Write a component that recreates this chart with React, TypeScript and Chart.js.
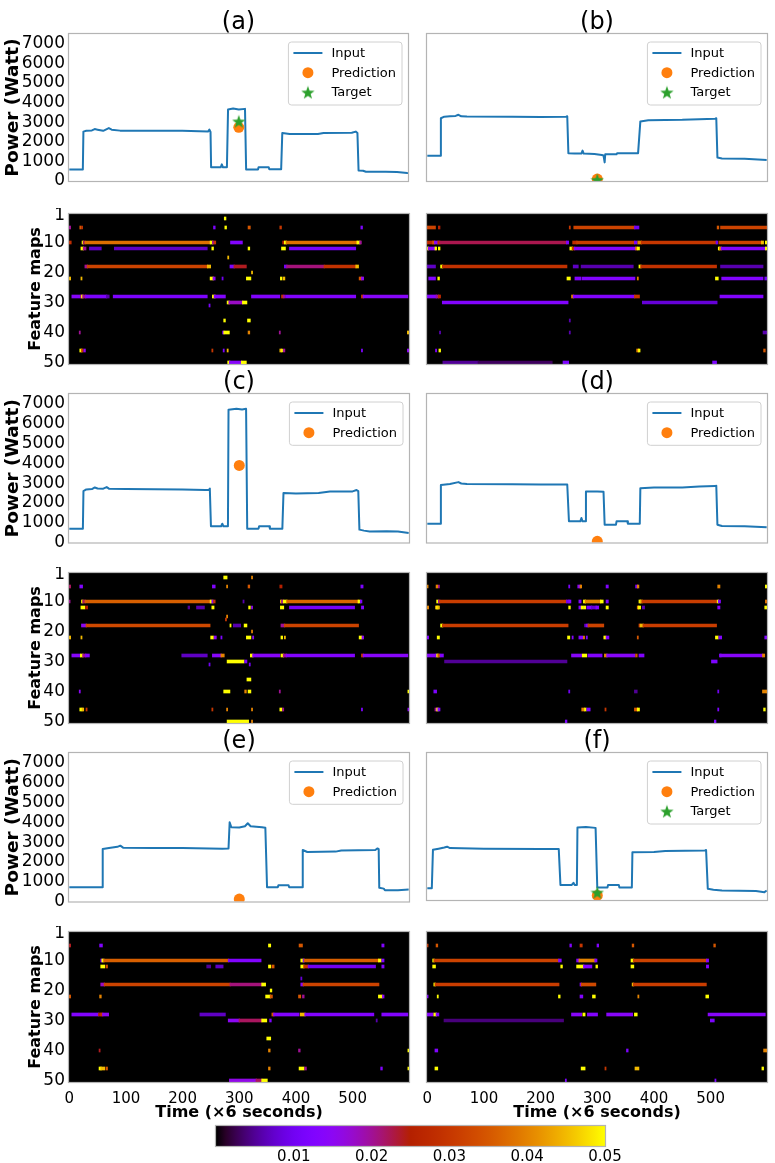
import React, { useEffect, useRef } from 'react';
import { Chart, registerables } from 'chart.js';

Chart.register(...registerables);

const FONT = '"DejaVu Sans", sans-serif';
const BLUE = '#1f77b4';
const ORANGE = '#ff7f0e';
const GREEN = '#2ca02c';
const FRAME = '#b4b4b4';

const PANEL_TITLES = ['(a)', '(b)', '(c)', '(d)', '(e)', '(f)'];
const POWER_TICKS = [0, 1000, 2000, 3000, 4000, 5000, 6000, 7000];
const POWER_MAX = 7500;
const TIME_TICKS = [0, 100, 200, 300, 400, 500];
const ROW_LABELS = Array.from({ length: 50 }, (_, i) => String(i + 1));
const ROW_TICKS = [1, 10, 20, 30, 40, 50];
const CBAR_TICKS = [0.01, 0.02, 0.03, 0.04, 0.05];
const CBAR_MAX = 0.05;
const PRED_TIME = 300;

// Input power series: [time step, watt]
const inputA = [[0,585],[24,585],[25,2520],[30,2560],[40,2580],[45,2650],[50,2620],[60,2560],[70,2700],[75,2620],[90,2570],[150,2560],[200,2560],[230,2540],[246,2530],[248,2620],[250,2500],[251,700],[268,700],[270,850],[272,700],[279,700],[281,3650],[290,3700],[300,3650],[311,3680],[313,585],[334,585],[335,700],[353,700],[354,600],[375,600],[377,2450],[390,2400],[440,2400],[450,2450],[500,2460],[507,2520],[510,2450],[512,540],[520,520],[525,470],[560,470],[580,460],[598,410],[599,430]];
const inputB = [[0,1290],[23,1290],[24,3200],[30,3280],[40,3300],[50,3320],[55,3380],[60,3300],[70,3290],[150,3280],[200,3270],[245,3280],[247,3300],[249,1420],[260,1400],[272,1400],[274,1550],[276,1400],[295,1380],[308,1330],[311,1300],[313,950],[314,1360],[334,1360],[335,1420],[372,1420],[376,3040],[390,3100],[450,3120],[480,3150],[508,3180],[510,3200],[512,1200],[520,1150],[560,1130],[599,1070]];
const inputC = [[0,700],[24,700],[25,2600],[30,2680],[40,2700],[45,2780],[50,2730],[60,2720],[66,2800],[70,2720],[100,2700],[200,2680],[240,2650],[246,2650],[248,2720],[250,820],[268,820],[270,950],[272,820],[280,820],[281,6700],[295,6750],[305,6720],[312,6750],[314,700],[334,700],[335,820],[353,820],[354,700],[376,700],[378,2500],[400,2480],[440,2500],[460,2580],[500,2580],[507,2650],[510,2600],[512,650],[520,600],[530,560],[560,570],[580,560],[599,480]];
const inputD = [[0,950],[23,950],[24,2900],[40,2950],[55,3050],[60,2980],[70,2950],[150,2940],[200,2930],[247,2930],[250,1070],[270,1070],[272,1240],[274,1070],[279,1070],[280,2570],[300,2580],[311,2560],[313,900],[333,900],[334,1070],[353,1070],[354,950],[375,950],[376,2740],[400,2780],[450,2780],[480,2830],[508,2850],[510,2870],[512,900],[520,830],[560,820],[599,770]];
const inputE = [[0,720],[58,720],[59,2650],[70,2700],[85,2760],[90,2820],[95,2720],[150,2700],[200,2700],[270,2670],[281,2680],[283,4000],[286,3750],[300,3740],[310,3800],[315,3950],[320,3800],[340,3750],[346,3720],[349,720],[368,720],[369,820],[387,820],[388,720],[411,720],[412,2600],[420,2500],[470,2520],[480,2580],[540,2600],[544,2680],[546,2650],[547,690],[555,650],[557,570],[580,570],[599,600]];
const inputF = [[0,600],[8,600],[10,2560],[20,2620],[30,2680],[35,2720],[40,2650],[100,2620],[200,2600],[232,2600],[235,770],[255,770],[258,880],[260,770],[264,770],[265,3700],[280,3720],[297,3680],[300,635],[318,635],[319,770],[338,770],[339,635],[361,635],[362,2440],[400,2450],[420,2500],[490,2530],[492,2550],[495,570],[505,520],[520,480],[580,460],[595,400],[599,480]];

const predictions = [2740, 100, 3890, 60, 120, 234];
const targets = [3040, 60, null, null, null, 380];

// Feature-map segments: [row (1-50), start step, end step, value]
const heatA = [
  [2,274,276,0.05],
  [5,0,2,0.02],[5,19,20,0.035],[5,22,23,0.03],[5,255,257,0.012],[5,275,277,0.05],[5,316,319,0.035],[5,372,374,0.03],[5,515,517,0.012],
  [10,0,3,0.028],[10,23,25,0.05],[10,25,28,0.022],[10,28,249,0.038],[10,249,253,0.05],[10,253,255,0.02],[10,256,258,0.03],[10,285,305,0.013],[10,377,380,0.025],[10,380,383,0.05],[10,383,508,0.038],[10,508,513,0.05],[10,513,515,0.02],
  [12,21,25,0.05],[12,25,29,0.02],[12,36,56,0.007],[12,80,243,0.007],[12,252,254,0.05],[12,316,318,0.05],[12,375,381,0.05],[12,389,505,0.011],
  [15,280,281,0.045],
  [18,28,32,0.02],[18,32,244,0.032],[18,244,249,0.045],[18,284,291,0.012],[18,291,312,0.024],[18,380,384,0.01],[18,384,450,0.021],[18,450,506,0.029],[18,506,510,0.045],
  [20,322,323,0.045],
  [22,0,2,0.045],[22,21,22,0.045],[22,249,254,0.05],[22,254,257,0.015],[22,270,271,0.01],[22,313,320,0.05],[22,373,375,0.05],[22,378,380,0.045],[22,512,516,0.035],[22,516,519,0.015],
  [28,5,19,0.014],[28,20,22,0.02],[28,22,24,0.05],[28,24,29,0.02],[28,29,66,0.012],[28,66,70,0.006],[28,78,243,0.012],[28,253,257,0.05],[28,256,275,0.013],[28,322,371,0.013],[28,375,377,0.03],[28,378,380,0.02],[28,382,505,0.013],[28,516,519,0.03],[28,519,597,0.014],
  [30,279,282,0.05],[30,282,306,0.018],[30,306,313,0.05],
  [31,247,248,0.012],
  [36,273,275,0.05],[36,315,319,0.05],
  [40,18,19,0.02],[40,271,273,0.012],[40,273,282,0.05],[40,316,318,0.04],[40,371,372,0.02],[40,597,600,0.045],
  [46,19,22,0.05],[46,22,24,0.03],[46,26,28,0.015],[46,252,253,0.03],[46,272,273,0.012],[46,279,280,0.045],[46,372,374,0.045],[46,375,376,0.05],[46,378,380,0.02],[46,516,517,0.012],[46,597,600,0.015],
  [50,280,283,0.05],[50,283,304,0.014],[50,304,312,0.05],
];
const heatB = [
  [5,0,14,0.032],[5,20,22,0.025],[5,251,252,0.03],[5,259,366,0.032],[5,366,373,0.01],[5,512,514,0.035],[5,518,600,0.032],
  [10,0,10,0.027],[10,10,13,0.035],[10,13,19,0.015],[10,19,22,0.028],[10,22,246,0.0225],[10,246,249,0.012],[10,257,264,0.028],[10,264,366,0.031],[10,366,370,0.012],[10,372,378,0.04],[10,378,510,0.03],[10,510,512,0.01],[10,515,590,0.032],[10,590,593,0.045],[10,597,600,0.05],
  [12,0,2,0.05],[12,2,14,0.015],[12,14,16,0.05],[12,20,22,0.05],[12,252,256,0.05],[12,256,260,0.03],[12,260,368,0.0135],[12,368,370,0.04],[12,371,374,0.05],[12,514,516,0.05],[12,516,519,0.04],[12,519,597,0.0135],[12,597,600,0.05],
  [18,0,14,0.007],[18,24,27,0.05],[18,27,246,0.029],[18,258,266,0.007],[18,272,363,0.006],[18,374,377,0.05],[18,377,510,0.029],[18,518,592,0.006],
  [22,3,14,0.013],[22,19,21,0.05],[22,247,252,0.05],[22,261,271,0.013],[22,274,366,0.013],[22,371,372,0.04],[22,509,513,0.05],[22,520,592,0.013],[22,596,600,0.01],
  [28,0,16,0.013],[28,16,20,0.02],[28,20,23,0.027],[28,255,258,0.04],[28,258,366,0.013],[28,366,369,0.03],[28,371,374,0.03],[28,517,592,0.013],
  [30,27,248,0.013],[30,380,511,0.008],
  [36,251,252,0.006],
  [40,22,23,0.006],[40,251,252,0.006],[40,593,600,0.006],
  [46,15,16,0.013],[46,21,23,0.05],[46,370,372,0.04],[46,373,375,0.05],[46,594,596,0.035],
  [50,28,90,0.005],[50,90,220,0.003],[50,240,249,0.012],[50,504,510,0.012],
];
const heatC = [
  [2,273,278,0.05],[2,322,323,0.04],
  [5,0,2,0.022],[5,19,23,0.013],[5,253,257,0.013],[5,278,279,0.04],[5,316,318,0.035],[5,372,375,0.025],[5,515,518,0.012],
  [10,0,1,0.02],[10,22,24,0.05],[10,24,28,0.022],[10,28,249,0.036],[10,249,252,0.05],[10,252,254,0.015],[10,255,257,0.03],[10,307,308,0.006],[10,373,375,0.045],[10,375,378,0.02],[10,378,384,0.05],[10,384,510,0.037],[10,510,513,0.05],[10,514,516,0.013],
  [12,21,27,0.05],[12,29,32,0.025],[12,210,212,0.005],[12,225,238,0.006],[12,252,255,0.05],[12,317,319,0.05],[12,322,323,0.015],[12,373,378,0.05],[12,389,503,0.011],[12,516,519,0.013],
  [15,278,279,0.04],[16,276,277,0.03],
  [18,22,30,0.015],[18,30,248,0.033],[18,284,285,0.05],[18,290,302,0.006],[18,309,313,0.05],[18,374,380,0.02],[18,380,510,0.032],
  [20,322,323,0.04],
  [22,0,2,0.045],[22,21,22,0.045],[22,250,254,0.05],[22,256,259,0.015],[22,268,269,0.012],[22,313,320,0.05],[22,324,325,0.015],[22,374,376,0.05],[22,380,381,0.045],[22,512,516,0.05],[22,517,519,0.015],
  [28,5,19,0.014],[28,20,24,0.05],[28,24,29,0.02],[28,29,35,0.013],[28,199,243,0.007],[28,253,268,0.014],[28,268,273,0.04],[28,320,324,0.05],[28,324,371,0.014],[28,374,378,0.05],[28,378,383,0.02],[28,383,503,0.013],[28,516,519,0.03],[28,519,597,0.014],
  [30,279,308,0.05],[30,310,313,0.012],
  [31,247,248,0.01],[31,318,319,0.01],
  [36,314,320,0.05],
  [40,18,19,0.015],[40,273,283,0.05],[40,310,312,0.04],[40,316,320,0.05],[40,371,372,0.02],[40,598,600,0.05],
  [46,19,22,0.05],[46,23,25,0.045],[46,30,31,0.03],[46,252,253,0.03],[46,278,279,0.04],[46,322,323,0.04],[46,372,375,0.05],[46,377,378,0.02],[46,516,517,0.012],[46,598,600,0.015],
  [50,279,316,0.05],[50,322,323,0.04],
];
const heatD = [
  [5,0,1,0.04],[5,16,18,0.04],[5,20,21,0.02],[5,250,251,0.012],[5,266,270,0.015],[5,270,272,0.04],[5,316,319,0.013],[5,368,371,0.01],[5,371,373,0.04],[5,513,516,0.04],[5,597,600,0.05],
  [10,17,19,0.05],[10,20,22,0.02],[10,22,246,0.031],[10,246,250,0.01],[10,250,253,0.013],[10,268,271,0.013],[10,276,279,0.05],[10,279,306,0.04],[10,306,310,0.05],[10,316,319,0.012],[10,374,376,0.05],[10,376,379,0.045],[10,379,510,0.031],[10,512,514,0.05],[10,514,517,0.013],[10,597,600,0.038],
  [12,0,2,0.04],[12,15,17,0.045],[12,17,19,0.05],[12,19,21,0.045],[12,250,252,0.05],[12,268,271,0.013],[12,272,274,0.05],[12,276,279,0.05],[12,282,290,0.012],[12,290,298,0.008],[12,298,302,0.013],[12,316,319,0.05],[12,371,373,0.04],[12,373,376,0.05],[12,380,383,0.006],[12,513,516,0.013],[12,596,600,0.05],
  [18,24,27,0.05],[18,27,248,0.031],[18,278,279,0.007],[18,281,284,0.013],[18,284,311,0.032],[18,374,375,0.03],[18,376,381,0.045],[18,381,510,0.031],
  [22,0,2,0.013],[22,18,21,0.05],[22,248,251,0.05],[22,256,257,0.013],[22,268,274,0.013],[22,276,277,0.04],[22,281,282,0.013],[22,312,315,0.05],[22,316,320,0.013],[22,371,372,0.035],[22,509,513,0.05],[22,515,519,0.013],[22,596,600,0.013],
  [28,0,14,0.014],[28,15,17,0.013],[28,17,19,0.05],[28,19,22,0.035],[28,23,28,0.013],[28,255,272,0.014],[28,274,281,0.05],[28,284,308,0.013],[28,313,317,0.04],[28,317,366,0.014],[28,368,370,0.035],[28,374,382,0.013],[28,516,518,0.013],[28,518,592,0.014],[28,592,595,0.04],
  [30,31,246,0.005],[30,502,511,0.012],
  [40,12,16,0.012],[40,250,251,0.01],[40,366,370,0.005],[40,513,514,0.01],[40,592,600,0.04],
  [46,14,17,0.02],[46,17,19,0.05],[46,19,22,0.013],[46,273,277,0.04],[46,278,280,0.05],[46,282,287,0.012],[46,314,315,0.03],[46,366,371,0.035],[46,371,374,0.05],[46,513,514,0.012],[46,594,596,0.05],
  [50,244,246,0.012],[50,507,509,0.012],
];
const heatE = [
  [5,0,2,0.024],[5,54,58,0.013],[5,352,355,0.05],[5,406,411,0.035],[5,552,555,0.013],
  [10,56,58,0.013],[10,58,61,0.05],[10,61,281,0.036],[10,281,338,0.013],[10,409,413,0.05],[10,413,415,0.013],[10,415,546,0.036],[10,546,550,0.05],[10,552,555,0.013],
  [12,56,62,0.05],[12,65,67,0.035],[12,243,249,0.005],[12,259,271,0.007],[12,352,355,0.05],[12,358,361,0.035],[12,409,414,0.05],[12,414,422,0.03],[12,422,540,0.01],[12,552,555,0.013],
  [16,409,410,0.008],
  [18,56,62,0.018],[18,62,284,0.032],[18,284,340,0.021],[18,340,346,0.05],[18,409,413,0.015],[18,413,546,0.032],
  [20,355,357,0.05],
  [22,0,2,0.035],[22,54,56,0.04],[22,347,355,0.05],[22,355,358,0.035],[22,405,408,0.035],[22,412,414,0.02],[22,546,552,0.05],[22,553,555,0.015],
  [28,5,52,0.013],[28,52,56,0.025],[28,56,59,0.03],[28,59,69,0.015],[28,231,275,0.007],[28,358,361,0.035],[28,361,405,0.013],[28,408,416,0.045],[28,416,537,0.013],[28,552,597,0.013],
  [30,281,300,0.015],[30,300,340,0.022],[30,340,348,0.05],[30,354,356,0.012],[30,542,543,0.006],
  [36,349,355,0.05],
  [40,53,54,0.024],[40,352,354,0.04],[40,405,407,0.02],[40,598,600,0.05],
  [46,53,56,0.05],[46,56,62,0.045],[46,65,67,0.035],[46,352,354,0.04],[46,406,414,0.05],[46,416,418,0.02],[46,550,552,0.013],[46,598,600,0.05],
  [50,283,330,0.016],[50,330,340,0.022],[50,340,349,0.05],
];
const heatF = [
  [5,0,1,0.03],[5,16,18,0.035],[5,252,254,0.013],[5,270,273,0.03],[5,300,302,0.013],[5,362,364,0.035],[5,506,508,0.035],
  [10,10,12,0.05],[10,12,232,0.032],[10,232,236,0.013],[10,264,268,0.013],[10,268,296,0.04],[10,296,299,0.013],[10,360,364,0.05],[10,364,493,0.032],[10,493,496,0.013],
  [12,10,14,0.05],[12,236,238,0.05],[12,264,276,0.05],[12,276,290,0.013],[12,298,300,0.05],[12,360,364,0.05],[12,493,496,0.013],
  [18,12,14,0.05],[18,14,232,0.031],[18,270,272,0.013],[18,272,297,0.033],[18,362,364,0.045],[18,364,492,0.031],
  [22,0,1,0.013],[22,18,19,0.05],[22,232,234,0.05],[22,270,274,0.013],[22,292,296,0.05],[22,372,373,0.04],[22,492,496,0.05],
  [28,0,10,0.014],[28,12,16,0.05],[28,16,20,0.013],[28,255,272,0.014],[28,275,278,0.05],[28,283,300,0.013],[28,317,362,0.014],[28,366,370,0.05],[28,496,596,0.014],
  [30,30,240,0.004],[30,500,506,0.012],
  [40,14,18,0.013],[40,352,354,0.012],[40,594,600,0.04],
  [46,14,18,0.05],[46,272,278,0.05],[46,314,315,0.03],[46,367,373,0.045],[46,591,593,0.05],
  [50,244,245,0.012],[50,508,509,0.012],
];

const inputs = [inputA, inputB, inputC, inputD, inputE, inputF];
const heats = [heatA, heatB, heatC, heatD, heatE, heatF];

// layout
const LINE_TOPS = [34, 394, 753];
const HEAT_TOPS = [214, 573, 932];
const PLOT_H = 150;

function gnuplotColor(v: number): string {
  const x = Math.max(0, Math.min(1, v / CBAR_MAX));
  const r = Math.sqrt(x);
  const g = x * x * x;
  const b = Math.max(0, Math.sin(2 * Math.PI * x));
  return `rgb(${Math.round(r * 255)},${Math.round(g * 255)},${Math.round(b * 255)})`;
}

function makeStar(color: string, size: number): HTMLCanvasElement {
  const c = document.createElement('canvas');
  c.width = size;
  c.height = size;
  const g = c.getContext('2d')!;
  const cx = size / 2, cy = size / 2 + 0.6;
  const R = size / 2, r = R * 0.4;
  g.beginPath();
  for (let i = 0; i < 10; i++) {
    const ang = -Math.PI / 2 + (i * Math.PI) / 5;
    const rad = i % 2 === 0 ? R : r;
    const px = cx + rad * Math.cos(ang), py = cy + rad * Math.sin(ang);
    if (i === 0) g.moveTo(px, py); else g.lineTo(px, py);
  }
  g.closePath();
  g.fillStyle = color;
  g.fill();
  return c;
}

const STAR = makeStar(GREEN, 14);

function fitY(s: any) {
  s.width = 69;
  s.paddingTop = 0;
  s.paddingBottom = 0;
}
function fitXBottom(height: number) {
  return (s: any) => {
    s.height = height;
    s.paddingLeft = 0;
    s.paddingRight = 0;
  };
}

function panelPlugin(cfg: { title?: string; legend?: string[]; background?: string }) {
  return {
    id: 'panel',
    beforeDatasetsDraw(chart: any) {
      if (!cfg.background) return;
      const { ctx, chartArea: ca } = chart;
      ctx.save();
      ctx.fillStyle = cfg.background;
      ctx.fillRect(ca.left, ca.top, ca.right - ca.left, ca.bottom - ca.top);
      ctx.restore();
    },
    afterDatasetsDraw(chart: any) {
      const { ctx, chartArea: ca } = chart;
      ctx.save();
      ctx.strokeStyle = FRAME;
      ctx.lineWidth = 1.2;
      ctx.strokeRect(ca.left - 0.5, ca.top - 0.5, ca.right - ca.left + 1, ca.bottom - ca.top + 1);
      if (cfg.title) {
        ctx.fillStyle = '#000';
        ctx.font = `24px ${FONT}`;
        ctx.textAlign = 'center';
        ctx.textBaseline = 'alphabetic';
        ctx.fillText(cfg.title, (ca.left + ca.right) / 2, ca.top - 5);
      }
      if (cfg.legend) {
        const items = cfg.legend;
        ctx.font = `13px ${FONT}`;
        const tw = Math.max(...items.map((s) => ctx.measureText(s).width));
        const w = 43 + tw + 6;
        const h = 11 + (items.length - 1) * 19.7 + 12.6;
        const x = ca.right - 6 - w;
        const y = ca.top + 8;
        ctx.beginPath();
        if ((ctx as any).roundRect) (ctx as any).roundRect(x, y, w, h, 3); else ctx.rect(x, y, w, h);
        ctx.fillStyle = 'rgba(255,255,255,0.85)';
        ctx.fill();
        ctx.strokeStyle = '#d0d0d0';
        ctx.lineWidth = 1;
        ctx.stroke();
        items.forEach((label, i) => {
          const cy = y + 11 + i * 19.7;
          if (label === 'Input') {
            ctx.strokeStyle = BLUE;
            ctx.lineWidth = 2;
            ctx.beginPath();
            ctx.moveTo(x + 5, cy);
            ctx.lineTo(x + 34, cy);
            ctx.stroke();
          } else if (label === 'Prediction') {
            ctx.fillStyle = ORANGE;
            ctx.beginPath();
            ctx.arc(x + 19.5, cy, 5.5, 0, Math.PI * 2);
            ctx.fill();
          } else {
            ctx.drawImage(STAR, x + 19.5 - STAR.width / 2, cy - STAR.height / 2);
          }
          ctx.fillStyle = '#000';
          ctx.textAlign = 'left';
          ctx.textBaseline = 'middle';
          ctx.fillText(label, x + 43, cy + 0.5);
        });
      }
      ctx.restore();
    },
  };
}

function lineConfig(i: number): any {
  const col = i % 2;
  const isLeft = col === 0;
  const datasets: any[] = [
    {
      label: 'Input',
      data: inputs[i].map(([x, y]) => ({ x, y })),
      borderColor: BLUE,
      backgroundColor: BLUE,
      borderWidth: 2,
      borderJoinStyle: 'round',
      borderCapStyle: 'butt',
      pointRadius: 0,
      tension: 0,
      fill: false,
      order: 3,
    },
    {
      label: 'Prediction',
      data: [{ x: PRED_TIME, y: predictions[i] }],
      showLine: false,
      pointRadius: 5.5,
      pointHoverRadius: 5.5,
      pointBackgroundColor: ORANGE,
      pointBorderWidth: 0,
      borderColor: ORANGE,
      backgroundColor: ORANGE,
      order: 2,
    },
  ];
  const legend = ['Input', 'Prediction'];
  if (targets[i] !== null) {
    datasets.push({
      label: 'Target',
      data: [{ x: PRED_TIME, y: targets[i] }],
      showLine: false,
      pointStyle: STAR,
      pointRadius: 6,
      borderColor: GREEN,
      backgroundColor: GREEN,
      order: 1,
    });
    legend.push('Target');
  }
  const yScale: any = {
    type: 'linear',
    min: 0,
    max: POWER_MAX,
    display: isLeft,
    afterBuildTicks: (s: any) => { s.ticks = POWER_TICKS.map((v) => ({ value: v })); },
    ticks: { autoSkip: false, font: { family: FONT, size: 17 }, color: '#000', padding: 4, callback: (v: any) => String(v) },
    grid: { display: false, drawTicks: false },
    border: { display: false },
    title: { display: true, text: 'Power (Watt)', color: '#000', font: { family: FONT, size: 18.5, weight: 'bold' }, padding: { top: 2, bottom: 0 } },
  };
  if (isLeft) yScale.afterFit = fitY;
  return {
    type: 'line',
    data: { datasets },
    plugins: [panelPlugin({ title: PANEL_TITLES[i], legend })],
    options: {
      animation: false,
      responsive: false,
      events: [],
      layout: { padding: isLeft ? { left: 0, right: 6, top: 32, bottom: 4 } : { left: 7, right: 8, top: 32, bottom: 4 } },
      plugins: { legend: { display: false }, tooltip: { enabled: false }, title: { display: false } },
      scales: {
        x: { type: 'linear', min: -0.5, max: 599.5, display: false },
        y: yScale,
      },
    },
  };
}

function heatConfig(i: number, bottom: boolean): any {
  const col = i % 2;
  const isLeft = col === 0;
  const segs = heats[i];
  const xScale: any = {
    type: 'linear',
    min: -0.5,
    max: 599.5,
    display: bottom,
    afterBuildTicks: (s: any) => { s.ticks = TIME_TICKS.map((v) => ({ value: v })); },
    ticks: { autoSkip: false, font: { family: FONT, size: 15 }, color: '#000', padding: 8, maxRotation: 0, callback: (v: any) => String(v) },
    grid: { display: false, drawTicks: false },
    border: { display: false },
    title: { display: true, text: 'Time (×6 seconds)', color: '#000', font: { family: FONT, size: 16, weight: 'bold' }, padding: { top: 0, bottom: 2 } },
  };
  if (bottom) xScale.afterFit = fitXBottom(42);
  const yScale: any = {
    type: 'category',
    display: isLeft,
    offset: true,
    ticks: {
      autoSkip: false,
      font: { family: FONT, size: 17 },
      color: '#000',
      padding: 4,
      callback: (_v: any, idx: number) => (ROW_TICKS.includes(idx + 1) ? ROW_LABELS[idx] : ''),
    },
    grid: { display: false, drawTicks: false },
    border: { display: false },
    title: { display: true, text: 'Feature maps', color: '#000', font: { family: FONT, size: 16, weight: 'bold' }, padding: { top: 26, bottom: 0 } },
  };
  if (isLeft) yScale.afterFit = fitY;
  return {
    type: 'bar',
    data: {
      labels: ROW_LABELS,
      datasets: [
        {
          label: 'Feature maps',
          data: segs.map((s) => ({ x: [s[1] - 0.5, s[2] + 0.5], y: String(s[0]) })),
          backgroundColor: segs.map((s) => gnuplotColor(s[3])),
          borderWidth: 0,
          barPercentage: 1,
          categoryPercentage: 1,
          grouped: false,
        },
      ],
    },
    plugins: [panelPlugin({ background: '#000' })],
    options: {
      animation: false,
      responsive: false,
      events: [],
      indexAxis: 'y',
      layout: { padding: isLeft ? { left: 0, right: 6, top: 6, bottom: bottom ? 0 : 4 } : { left: 7, right: 8, top: 6, bottom: bottom ? 0 : 4 } },
      plugins: { legend: { display: false }, tooltip: { enabled: false }, title: { display: false } },
      scales: { x: xScale, y: yScale },
    },
  };
}

function colorbarConfig(): any {
  return {
    type: 'bar',
    data: {
      labels: ['cb'],
      datasets: [
        {
          label: 'colorbar',
          data: [{ x: [0, CBAR_MAX], y: 'cb' }],
          backgroundColor: (c: any) => {
            const chart = c.chart;
            const ca = chart.chartArea;
            if (!ca) return '#000';
            const xs = chart.scales.x;
            const x0 = xs.getPixelForValue(0);
            const x1 = xs.getPixelForValue(CBAR_MAX);
            const grad = chart.ctx.createLinearGradient(x0, 0, x1, 0);
            for (let k = 0; k <= 40; k++) grad.addColorStop(k / 40, gnuplotColor((k / 40) * CBAR_MAX));
            return grad;
          },
          borderWidth: 0,
          barPercentage: 1,
          categoryPercentage: 1,
        },
      ],
    },
    plugins: [panelPlugin({})],
    options: {
      animation: false,
      responsive: false,
      events: [],
      indexAxis: 'y',
      layout: { padding: { left: 16, right: 25, top: 6, bottom: 0 } },
      plugins: { legend: { display: false }, tooltip: { enabled: false }, title: { display: false } },
      scales: {
        x: {
          type: 'linear',
          min: 0,
          max: CBAR_MAX,
          afterFit: fitXBottom(17),
          afterBuildTicks: (s: any) => { s.ticks = CBAR_TICKS.map((v) => ({ value: v })); },
          ticks: { autoSkip: false, font: { family: FONT, size: 15 }, color: '#000', padding: 2, maxRotation: 0, callback: (v: any) => Number(v).toFixed(2) },
          grid: { display: false, drawTicks: false },
          border: { display: false },
        },
        y: { type: 'category', display: false, offset: true },
      },
    },
  };
}

function ChartBox(props: { left: number; top: number; width: number; height: number; make: () => any }) {
  const ref = useRef<HTMLCanvasElement>(null);
  useEffect(() => {
    const chart = new Chart(ref.current as HTMLCanvasElement, props.make());
    return () => chart.destroy();
  }, []);
  return (
    <canvas
      ref={ref}
      width={props.width}
      height={props.height}
      style={{ position: 'absolute', left: props.left, top: props.top, width: props.width, height: props.height }}
    />
  );
}

export default function App() {
  const boxes: any[] = [];
  for (let i = 0; i < 6; i++) {
    const col = i % 2;
    const row = Math.floor(i / 2);
    const left = col === 0 ? 0 : 420;
    const width = col === 0 ? 415 : 355;
    const bottom = row === 2;
    boxes.push(
      <ChartBox key={`l${i}`} left={left} top={LINE_TOPS[row] - 32} width={width} height={32 + PLOT_H + 4} make={() => lineConfig(i)} />
    );
    boxes.push(
      <ChartBox
        key={`h${i}`}
        left={left}
        top={HEAT_TOPS[row] - 6}
        width={width}
        height={6 + PLOT_H + (bottom ? 42 : 4)}
        make={() => heatConfig(i, bottom)}
      />
    );
  }
  return (
    <div style={{ position: 'absolute', left: 0, top: 0, width: 775, height: 1163, background: '#fff', overflow: 'hidden' }}>
      {boxes}
      <ChartBox key="cb" left={200} top={1120} width={430} height={43} make={colorbarConfig} />
    </div>
  );
}
